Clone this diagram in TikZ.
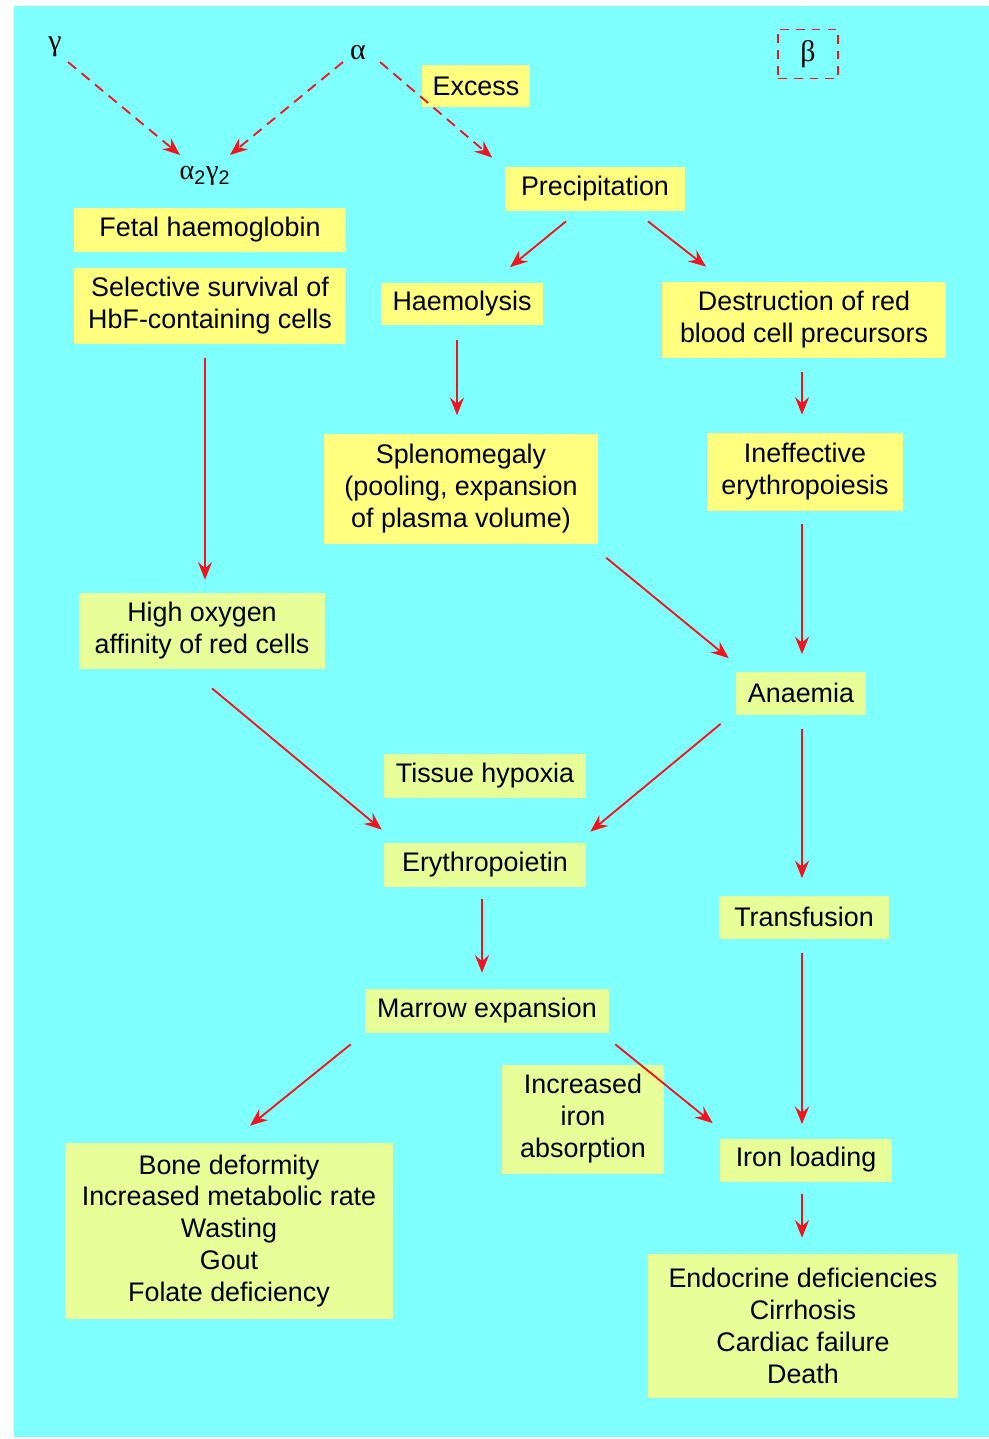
\documentclass[tikz,border=0pt]{standalone}
\usepackage{fontspec}
\setmainfont{Liberation Sans}
\newfontfamily\greekfont{Liberation Serif}
\usepackage{xcolor}
\usepackage{tikz}
\usetikzlibrary{arrows.meta,positioning,calc}
\definecolor{bgcyan}{RGB}{128,255,255}
\definecolor{boxyellow}{RGB}{255,255,128}
\definecolor{boxlime}{RGB}{232,255,153}
\definecolor{arrowred}{RGB}{240,20,30}

\begin{document}
\begin{tikzpicture}[
    x=0.02cm, y=-0.02cm,
    ybox/.style={rectangle, fill=boxyellow, inner sep=0pt, align=center, font=\fontsize{15.3}{18.2}\selectfont},
    gbox/.style={ybox, fill=boxlime},
    greek/.style={inner sep=1pt, font=\fontsize{17}{19}\selectfont\greekfont},
    arrow/.style={-{Stealth[length=10pt, width=8pt, inset=3.5pt]}, line width=1.05pt, color=arrowred},
    darrow/.style={arrow, dash pattern=on 6pt off 4pt}
]

% === BACKGROUND ===
\useasboundingbox (0,0) rectangle (989,1439);
\fill[white] (0,0) rectangle (989,1439);
\fill[bgcyan] (14,6) rectangle (989,1437);

% === GLOBIN CHAINS (top) ===
\node[greek] (gamma) at (55,47) {γ};
\node[greek] (alpha) at (358,53) {α};
\node[inner sep=1pt, font=\fontsize{16}{18}\selectfont] (a2g2) at (205,176) {{\greekfont α}\textsubscript{2}{\greekfont γ}\textsubscript{2}};
\node[greek, draw=arrowred, line width=1.05pt, dash pattern=on 5pt off 4pt, minimum width=1.2cm, minimum height=0.98cm] (beta) at (808,54) {β};

\node[ybox, minimum width=2.16cm, minimum height=0.84cm] (excess) at (476,86) {Excess};
\node[ybox, minimum width=3.62cm, minimum height=0.88cm] (precip) at (595,189) {Precipitation};

% === LEFT COLUMN ===
\node[ybox, minimum width=5.46cm, minimum height=0.9cm] (fetal) at (210,230) {Fetal haemoglobin};
\node[ybox, minimum width=5.46cm, minimum height=1.54cm] (survival) at (210,306) {Selective survival of\\HbF-containing cells};
\node[gbox, minimum width=4.94cm, minimum height=1.52cm] (affinity) at (202,631) {High oxygen\\affinity of red cells};

% === MIDDLE / RIGHT COLUMNS ===
\node[ybox, minimum width=3.24cm, minimum height=0.86cm] (haemolysis) at (462,304) {Haemolysis};
\node[ybox, minimum width=5.7cm, minimum height=1.52cm] (destruction) at (804,320) {Destruction of red\\blood cell precursors};
\node[ybox, minimum width=5.48cm, minimum height=2.22cm] (spleno) at (461,489) {Splenomegaly\\(pooling, expansion\\of plasma volume)};
\node[ybox, minimum width=3.94cm, minimum height=1.56cm] (ineffective) at (805,472) {Ineffective\\erythropoiesis};
\node[gbox, minimum width=2.6cm, minimum height=0.86cm] (anaemia) at (801,693) {Anaemia};

\node[gbox, minimum width=4.04cm, minimum height=0.88cm] (hypoxia) at (485,776) {Tissue hypoxia};
\node[gbox, minimum width=4.04cm, minimum height=0.88cm] (epo) at (485,865) {Erythropoietin};
\node[gbox, minimum width=3.42cm, minimum height=0.86cm] (transfusion) at (804,917) {Transfusion};
\node[gbox, minimum width=4.88cm, minimum height=0.88cm] (marrow) at (487,1011) {Marrow expansion};

% === CONSEQUENCES (bottom) ===
\node[gbox, minimum width=3.24cm, minimum height=2.18cm] (absorption) at (583,1119) {Increased\\iron\\absorption};
\node[gbox, minimum width=3.44cm, minimum height=0.86cm] (ironload) at (806,1160) {Iron loading};
\node[gbox, minimum width=6.56cm, minimum height=3.52cm] (bone) at (229,1231) {Bone deformity\\Increased metabolic rate\\Wasting\\Gout\\Folate deficiency};
\node[gbox, minimum width=6.2cm, minimum height=2.88cm] (endocrine) at (803,1326) {Endocrine deficiencies\\Cirrhosis\\Cardiac failure\\Death};

% === ARROWS ===
\draw[darrow] ($(gamma)+(13,15)$) -- ($(a2g2)+(-25,-21)$);
\draw[darrow] ($(alpha)+(-15,9)$) -- ($(a2g2)+(25,-21)$);
\draw[darrow] ($(alpha)+(22,9)$) -- ($(precip.north west)+(-12,-9)$);

\draw[arrow] ($(precip.south)+(-29,10)$) -- ($(haemolysis.north)+(48,-15)$);
\draw[arrow] ($(precip.south)+(53,10)$) -- ($(destruction.north)+(-98,-15)$);
\draw[arrow] ($(haemolysis.south)+(-5,14)$) -- ($(spleno.north)+(-4,-18)$);
\draw[arrow] ($(destruction.south)+(-2,14)$) -- ($(ineffective.north)+(-3,-18)$);
\draw[arrow] ($(survival.south)+(-5,13)$) -- ($(affinity.north)+(3,-13)$);
\draw[arrow] ($(ineffective.south)+(-3,13)$) -- ($(anaemia.north)+(1,-17)$);
\draw[arrow] ($(spleno.south east)+(8,13)$) -- ($(anaemia.north west)+(-7,-13)$);
\draw[arrow] ($(affinity.south)+(10,19)$) -- ($(epo.north west)+(-2,-13)$);
\draw[arrow] ($(anaemia.south west)+(-15,9)$) -- ($(epo.north east)+(4,-11)$);
\draw[arrow] ($(anaemia.south)+(1,14)$) -- ($(transfusion.north)+(-2,-17)$);
\draw[arrow] ($(epo.south)+(-3,12)$) -- ($(marrow.north)+(-5,-16)$);
\draw[arrow] ($(transfusion.south)+(-2,14)$) -- ($(ironload.north)+(-4,-14)$);
\draw[arrow] ($(marrow.south west)+(-14,11)$) -- ($(bone.north)+(21,-17)$);
\draw[arrow] ($(marrow.south east)+(6,11)$) -- ($(ironload.north west)+(-7,-15)$);
\draw[arrow] ($(ironload.south)+(-4,12)$) -- ($(endocrine.north)+(-1,-16)$);

\end{tikzpicture}
\end{document}
